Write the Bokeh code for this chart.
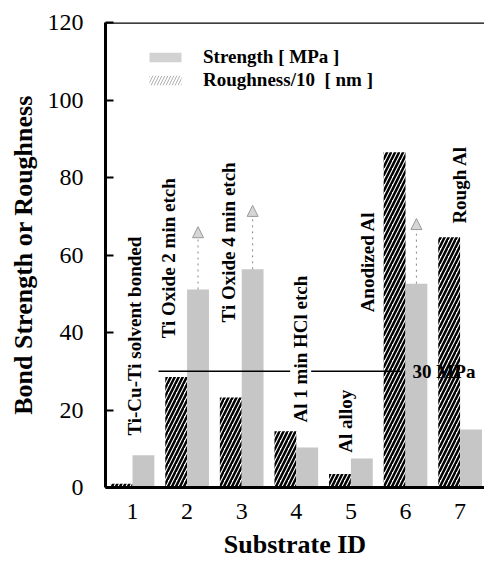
import numpy as np
from bokeh.plotting import figure
from bokeh.models import (Range1d, ColumnDataSource, Arrow, NormalHead, Span,
                          Legend, LegendItem, FixedTicker)
from bokeh.transform import dodge
from bokeh.core.properties import value
from bokeh.embed import file_html
from bokeh.resources import INLINE

# ---------------- data ----------------
substrate_ids = [1, 2, 3, 4, 5, 6, 7]
strength_mpa = [8.3, 51.1, 56.3, 10.3, 7.5, 52.6, 15.0]
roughness_div10 = [1.0, 28.5, 23.2, 14.5, 3.5, 86.5, 64.6]

arrow_ids = [2, 3, 6]
arrow_from = [51.1, 56.3, 52.6]
arrow_to = [67.3, 72.8, 69.4]

sample_names = ["Ti-Cu-Ti solvent bonded", "Ti Oxide 2 min etch", "Ti Oxide 4 min etch",
                "Al 1 min HCl etch", "Al alloy", "Anodized Al", "Rough Al"]
name_x = [1.04, 1.66, 2.75, 4.08, 4.90, 5.30, 6.99]
name_y = [13.4, 38.5, 42.6, 16.8, 9.0, 45.2, 68.1]

threshold_mpa = [30]
threshold_start = [1.476]
threshold_end = [5.91]
threshold_label = ["30 MPa"]
threshold_label_x = [6.13]

y_ticks = [0, 20, 40, 60, 80, 100, 120]

SERIF = "Liberation Serif"

# ---------------- figure ----------------
p = figure(width=484, height=562,
           x_range=Range1d(0.505, 7.447), y_range=Range1d(0, 120),
           output_backend="svg", toolbar_location=None,
           min_border_left=105, min_border_right=0,
           min_border_top=22, min_border_bottom=75)
p.outline_line_color = None
p.xgrid.visible = False
p.ygrid.visible = False
p.background_fill_color = "white"
p.border_fill_color = "white"

bars = ColumnDataSource(dict(id=substrate_ids, strength=strength_mpa, rough=roughness_div10))

p.vbar(x=dodge("id", -0.2, range=p.x_range), top="rough", width=0.4, bottom=0, source=bars,
       fill_color="white", line_color=None,
       hatch_pattern="/", hatch_color="black", hatch_weight=2.5, hatch_scale=8)
p.vbar(x=dodge("id", 0.2, range=p.x_range), top="strength", width=0.4, bottom=0, source=bars,
       fill_color="#c6c6c6", line_color=None)

# legend proxies (zero-height bars, used only for legend swatches)
proxy = ColumnDataSource(dict(x=substrate_ids[:1], top=[0]))
leg_s = p.vbar(x="x", top="top", bottom=0, width=0.4, source=proxy, fill_color="#d2d2d2", line_color=None)
leg_r = p.vbar(x="x", top="top", bottom=0, width=0.4, source=proxy, fill_color="white", line_color=None,
               hatch_pattern="/", hatch_color="#b0b0b0", hatch_weight=1, hatch_scale=6)

# 30 MPa line
p.segment(x0=threshold_start, y0=threshold_mpa, x1=threshold_end, y1=threshold_mpa,
          line_color="black", line_width=1.5)
p.text(x=threshold_label_x, y=threshold_mpa, text=threshold_label,
       text_align="left", text_baseline="middle",
       text_font=value(SERIF), text_font_style="bold", text_font_size="19px", text_color="black")

names = ColumnDataSource(dict(x=name_x, y=name_y, t=sample_names))
p.text(x="x", y="y", text="t", source=names, angle=np.pi / 2,
       text_align="left", text_baseline="middle",
       text_font=value(SERIF), text_font_style="bold", text_font_size="19px",
       text_color="black", background_fill_color="white")

arrows = ColumnDataSource(dict(id=arrow_ids, y0=arrow_from, y1=arrow_to))
p.add_layout(Arrow(end=NormalHead(size=11, fill_color="#d6d6d6", line_color="#999999", line_width=1),
                   x_start=dodge("id", 0.2, range=p.x_range), y_start="y0",
                   x_end=dodge("id", 0.2, range=p.x_range), y_end="y1",
                   source=arrows, line_color="#888888", line_width=1, line_dash="dotted"))

p.add_layout(Span(location=120, dimension="width", line_color="black", line_width=2.5))

# axes
for ax in (p.xaxis[0], p.yaxis[0]):
    ax.axis_line_width = 3
    ax.axis_line_color = "black"
    ax.major_label_text_font = SERIF
    ax.major_label_text_font_size = "24px"
    ax.major_label_text_color = "black"
    ax.axis_label_text_font = SERIF
    ax.axis_label_text_font_style = "bold"
    ax.axis_label_text_font_size = "26px"
    ax.axis_label_text_color = "black"
    ax.minor_tick_line_color = None

p.xaxis.ticker = FixedTicker(ticks=substrate_ids)
p.xaxis.axis_label = "Substrate ID"
p.xaxis.major_tick_in = 0
p.xaxis.major_tick_out = 0
p.xaxis.major_label_standoff = 16
p.xaxis.axis_label_standoff = 8

p.yaxis.ticker = FixedTicker(ticks=y_ticks)
p.yaxis.axis_label = "Bond Strength or Roughness"
p.yaxis.major_tick_in = 8
p.yaxis.major_tick_out = 0
p.yaxis.major_tick_line_width = 2
p.yaxis.major_label_standoff = 22
p.yaxis.axis_label_standoff = 7

legend = Legend(items=[LegendItem(label="Strength [ MPa ]", renderers=[leg_s]),
                       LegendItem(label="Roughness/10  [ nm ]", renderers=[leg_r])],
                location=(40, 396), padding=0, margin=0, spacing=1,
                glyph_width=40, glyph_height=12, label_standoff=18,
                label_text_font=SERIF, label_text_font_style="bold",
                label_text_font_size="19px", label_text_color="black",
                border_line_color=None, background_fill_alpha=0)
p.add_layout(legend)

open("out.html", "w").write(file_html(p, INLINE))
